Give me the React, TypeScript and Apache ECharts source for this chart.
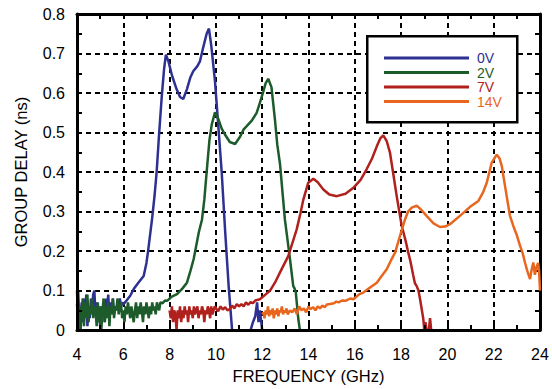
import React, { useEffect, useRef } from "react";
import * as echarts from "echarts";

// ---- data (frequency in GHz, group delay in ns) ----
const seriesNames = ["0V", "2V", "7V", "14V"];

const delay0V: (number | string)[][] = [
  [4.0, 0.06], [4.05, 0.1], [4.1, 0.03], [4.15, 0.0], [4.2, 0.07], [4.25, 0.02], [4.3, 0.08], [4.35, 0.04],
  [4.4, 0.09], [4.45, 0.01], [4.5, 0.06], [4.55, 0.03], [4.6, 0.08], [4.65, 0.05], [4.7, 0.09], [4.75, 0.1],
  [4.8, 0.04], [4.85, 0.07], [4.9, 0.02], [4.95, 0.05], [5.0, 0.01], [5.05, 0.06], [5.1, 0.03], [5.15, 0.07],
  [5.2, 0.02], [5.25, 0.08], [5.3, 0.05], [5.35, 0.09], [5.4, 0.03], [5.45, 0.07], [5.5, 0.05], [5.55, 0.08],
  [5.6, 0.04], [5.65, 0.06], [5.7, 0.05], [5.75, 0.07], [5.8, 0.06], [5.85, 0.08], [5.9, 0.06], [5.95, 0.07],
  [6.0, 0.065], [6.1, 0.072], [6.3, 0.087], [6.45, 0.104], [6.65, 0.12], [6.88, 0.137], [7.0, 0.17],
  [7.07, 0.2], [7.24, 0.28], [7.35, 0.34], [7.44, 0.4], [7.55, 0.5], [7.66, 0.59], [7.76, 0.66], [7.84, 0.697],
  [7.95, 0.68], [8.1, 0.645], [8.3, 0.61], [8.45, 0.59], [8.59, 0.585], [8.75, 0.61], [8.9, 0.64],
  [9.02, 0.655], [9.2, 0.668], [9.31, 0.68], [9.45, 0.715], [9.6, 0.75], [9.7, 0.763], [9.8, 0.72],
  [9.96, 0.63], [10.1, 0.52], [10.25, 0.4], [10.4, 0.25], [10.55, 0.112], [10.7, 0.0], [10.8, "-"],
  [11.5, 0.0], [11.6, 0.02], [11.7, 0.035], [11.78, 0.07], [11.84, 0.02], [11.9, 0.05], [12.0, 0.0],
];

const delay2V: number[][] = [
  [4.0, 0.1], [4.05, 0.02], [4.1, 0.06], [4.15, 0.0], [4.2, 0.05], [4.25, 0.08], [4.3, 0.01], [4.35, 0.07],
  [4.4, 0.03], [4.45, 0.09], [4.5, 0.02], [4.55, 0.06], [4.6, 0.04], [4.65, 0.08], [4.7, 0.03], [4.75, 0.06],
  [4.8, 0.05], [4.85, 0.01], [4.9, 0.07], [4.95, 0.02], [5.0, 0.06], [5.05, 0.0], [5.1, 0.05], [5.15, 0.08],
  [5.2, 0.02], [5.25, 0.06], [5.3, 0.03], [5.35, 0.07], [5.4, 0.01], [5.45, 0.06], [5.5, 0.04], [5.55, 0.08],
  [5.6, 0.03], [5.65, 0.06], [5.7, 0.05], [5.75, 0.08], [5.8, 0.04], [5.85, 0.06], [5.9, 0.07], [5.95, 0.03],
  [6.0, 0.05], [6.05, 0.02], [6.1, 0.06], [6.15, 0.04], [6.2, 0.07], [6.25, 0.05], [6.3, 0.03], [6.35, 0.06],
  [6.4, 0.04], [6.45, 0.02], [6.5, 0.05], [6.55, 0.07], [6.6, 0.03], [6.65, 0.06], [6.7, 0.04], [6.75, 0.07],
  [6.8, 0.05], [6.85, 0.02], [6.9, 0.06], [6.95, 0.04], [7.0, 0.07], [7.05, 0.05], [7.1, 0.03], [7.15, 0.06],
  [7.2, 0.04], [7.25, 0.07], [7.3, 0.05], [7.35, 0.06], [7.4, 0.04], [7.45, 0.07], [7.5, 0.06], [7.55, 0.05],
  [7.6, 0.07], [7.7, 0.068], [7.8, 0.075], [7.89, 0.074], [8.1, 0.085], [8.32, 0.091], [8.55, 0.105],
  [8.75, 0.12], [8.9, 0.15], [9.04, 0.18], [9.26, 0.247], [9.4, 0.28], [9.5, 0.33], [9.6, 0.4], [9.72, 0.48],
  [9.82, 0.52], [9.96, 0.551], [10.1, 0.535], [10.25, 0.51], [10.39, 0.495], [10.6, 0.476], [10.83, 0.471],
  [11.05, 0.49], [11.2, 0.508], [11.33, 0.516], [11.55, 0.53], [11.76, 0.55], [11.9, 0.575], [12.05, 0.604],
  [12.15, 0.625], [12.26, 0.636], [12.4, 0.615], [12.55, 0.533], [12.65, 0.47], [12.77, 0.42], [12.98, 0.28],
  [13.2, 0.18], [13.34, 0.112], [13.4, 0.105], [13.45, 0.096], [13.56, 0.028], [13.63, 0.0],
];

const delay7V: number[][] = [
  [8.0, 0.05], [8.05, 0.03], [8.1, 0.06], [8.15, 0.02], [8.2, 0.05], [8.25, 0.04], [8.3, 0.0], [8.35, 0.05],
  [8.4, 0.03], [8.45, 0.06], [8.5, 0.02], [8.55, 0.05], [8.6, 0.03], [8.65, 0.06], [8.7, 0.04], [8.75, 0.05],
  [8.8, 0.02], [8.85, 0.06], [8.9, 0.04], [8.95, 0.05], [9.0, 0.03], [9.05, 0.06], [9.1, 0.04], [9.15, 0.05],
  [9.2, 0.06], [9.25, 0.03], [9.3, 0.05], [9.35, 0.04], [9.4, 0.06], [9.45, 0.05], [9.5, 0.02], [9.55, 0.05],
  [9.6, 0.04], [9.65, 0.06], [9.7, 0.05], [9.75, 0.03], [9.8, 0.06], [9.85, 0.04], [9.9, 0.05], [9.95, 0.06],
  [10.0, 0.055], [10.1, 0.048], [10.2, 0.06], [10.3, 0.052], [10.4, 0.058], [10.5, 0.05], [10.6, 0.053],
  [10.7, 0.062], [10.8, 0.055], [10.9, 0.066], [11.0, 0.06], [11.1, 0.066], [11.2, 0.06], [11.3, 0.07],
  [11.4, 0.064], [11.5, 0.071], [11.6, 0.068], [11.7, 0.075], [11.9, 0.078], [12.1, 0.088], [12.34, 0.1],
  [12.55, 0.12], [12.77, 0.146], [13.13, 0.188], [13.49, 0.255], [13.65, 0.295], [13.78, 0.331],
  [13.99, 0.373], [14.21, 0.383], [14.4, 0.374], [14.64, 0.356], [14.9, 0.343], [15.22, 0.339], [15.6, 0.345],
  [15.94, 0.36], [16.25, 0.38], [16.51, 0.407], [16.75, 0.435], [16.95, 0.465], [17.1, 0.485], [17.23, 0.493],
  [17.38, 0.478], [17.52, 0.449], [17.65, 0.4], [17.81, 0.339], [18.03, 0.263], [18.2, 0.225], [18.31, 0.196],
  [18.4, 0.175], [18.53, 0.137], [18.6, 0.118], [18.67, 0.112], [18.75, 0.1], [18.82, 0.078], [18.96, 0.028],
  [19.0, 0.0], [19.05, 0.02], [19.1, 0.0], [19.2, 0.0], [19.25, 0.03], [19.3, 0.0],
];

const delay14V: number[][] = [
  [12.0, 0.04], [12.05, 0.045], [12.1, 0.03], [12.15, 0.05], [12.2, 0.04], [12.25, 0.06], [12.3, 0.035],
  [12.35, 0.05], [12.4, 0.04], [12.45, 0.055], [12.5, 0.03], [12.55, 0.05], [12.6, 0.04], [12.65, 0.055],
  [12.7, 0.035], [12.75, 0.05], [12.8, 0.045], [12.85, 0.06], [12.9, 0.04], [12.95, 0.05], [13.0, 0.045],
  [13.05, 0.055], [13.1, 0.04], [13.2, 0.05], [13.3, 0.045], [13.4, 0.055], [13.5, 0.04], [13.6, 0.06],
  [13.7, 0.05], [13.8, 0.055], [13.9, 0.045], [14.0, 0.06], [14.07, 0.053], [14.2, 0.058], [14.3, 0.05],
  [14.4, 0.06], [14.5, 0.055], [14.6, 0.062], [14.7, 0.058], [14.8, 0.065], [14.93, 0.066], [15.1, 0.068],
  [15.2, 0.072], [15.3, 0.07], [15.45, 0.075], [15.6, 0.074], [15.8, 0.08], [15.94, 0.078], [16.2, 0.091],
  [16.37, 0.095], [16.6, 0.105], [16.95, 0.12], [17.2, 0.14], [17.38, 0.154], [17.55, 0.175], [17.74, 0.196],
  [17.95, 0.238], [18.17, 0.28], [18.3, 0.3], [18.46, 0.31], [18.67, 0.315], [18.85, 0.306], [19.1, 0.289],
  [19.4, 0.27], [19.68, 0.261], [19.9, 0.262], [20.11, 0.268], [20.54, 0.289], [20.98, 0.312], [21.34, 0.327],
  [21.55, 0.35], [21.7, 0.373], [21.91, 0.423], [22.13, 0.444], [22.25, 0.435], [22.35, 0.415], [22.56, 0.339],
  [22.7, 0.29], [22.85, 0.263], [23.0, 0.24], [23.14, 0.213], [23.25, 0.195], [23.35, 0.171], [23.45, 0.15],
  [23.57, 0.129], [23.63, 0.15], [23.71, 0.171], [23.78, 0.14], [23.85, 0.16], [23.92, 0.17], [23.96, 0.15],
  [24.0, 0.1],
];

const seriesData = [delay0V, delay2V, delay7V, delay14V];
const colors = ["#2e3192", "#1d5b2b", "#b0201c", "#e8661e"];
const legendRowTop = [51, 65.5, 80, 94.5];

const FONT = "'Liberation Sans', Arial, Helvetica, sans-serif";

export default function App() {
  const ref = useRef<HTMLDivElement>(null);

  useEffect(() => {
    if (!ref.current) return;
    const chart = echarts.init(ref.current, undefined, { renderer: "svg" });

    const frameLine = { show: true, onZero: false, lineStyle: { color: "#000", width: 3 } };
    const tick = { show: true, inside: true, length: 5, lineStyle: { color: "#000", width: 2 } };
    const minor = { show: true, splitNumber: 2, length: 5, lineStyle: { color: "#000", width: 2 } };
    const dashed = { show: true, lineStyle: { color: "#000", width: 2, type: [5, 4] as any } };

    chart.setOption({
      animation: false,
      backgroundColor: "#fff",
      textStyle: { fontFamily: FONT },
      grid: { left: 77, right: 12, top: 14, bottom: 58 },
      xAxis: [
        {
          type: "value", min: 4, max: 24, interval: 2, position: "bottom", z: 5,
          axisLine: frameLine, axisTick: tick, minorTick: minor, splitLine: { show: false },
          axisLabel: { color: "#000", fontSize: 16, margin: 16, fontFamily: FONT },
          name: "FREQUENCY (GHz)", nameLocation: "middle", nameGap: 35,
          nameTextStyle: { color: "#000", fontSize: 16.5, fontFamily: FONT },
        },
        {
          type: "value", min: 4, max: 24, interval: 2, position: "top", z: 1,
          axisLine: frameLine, axisTick: tick, minorTick: minor, splitLine: dashed,
          axisLabel: { show: false },
        },
      ],
      yAxis: [
        {
          type: "value", min: 0, max: 0.8, interval: 0.1, position: "left", z: 5,
          axisLine: frameLine, axisTick: tick, minorTick: minor, splitLine: { show: false },
          axisLabel: {
            color: "#000", fontSize: 16, margin: 12, fontFamily: FONT,
            formatter: (v: number) => (v === 0 ? "0" : v.toFixed(1)),
          },
          name: "GROUP DELAY (ns)", nameLocation: "middle", nameGap: 48, nameRotate: 90,
          nameTextStyle: { color: "#000", fontSize: 16.5, fontFamily: FONT },
        },
        {
          type: "value", min: 0, max: 0.8, interval: 0.1, position: "right", z: 1,
          axisLine: frameLine, axisTick: tick, minorTick: minor, splitLine: dashed,
          axisLabel: { show: false },
        },
      ],
      legend: seriesNames.map((n, i) => ({
        orient: "vertical", left: 384, top: legendRowTop[i], z: 20, padding: 0,
        icon: "rect", itemWidth: 85, itemHeight: 3, itemGap: 0,
        textStyle: { fontSize: 14, lineHeight: 13, fontFamily: FONT, color: colors[i], padding: [0, 0, 0, 3] },
        data: [{ name: n, textStyle: { color: colors[i] } }],
      })),
      graphic: [
        {
          type: "rect", z: 15, left: 366, top: 35,
          shape: { width: 150, height: 86 },
          style: { fill: "#fff", stroke: "#000", lineWidth: 2.5 },
        },
      ],
      series: seriesNames.map((n, i) => ({
        name: n, type: "line", data: seriesData[i], showSymbol: false, symbol: "none",
        xAxisIndex: 0, yAxisIndex: 0, z: 3,
        lineStyle: { color: colors[i], width: 2.5 }, itemStyle: { color: colors[i] },
        connectNulls: false,
      })),
    });

    return () => chart.dispose();
  }, []);

  return (
    <div
      ref={ref}
      style={{ position: "fixed", left: 0, top: 0, width: 552, height: 389, background: "#fff" }}
    />
  );
}
